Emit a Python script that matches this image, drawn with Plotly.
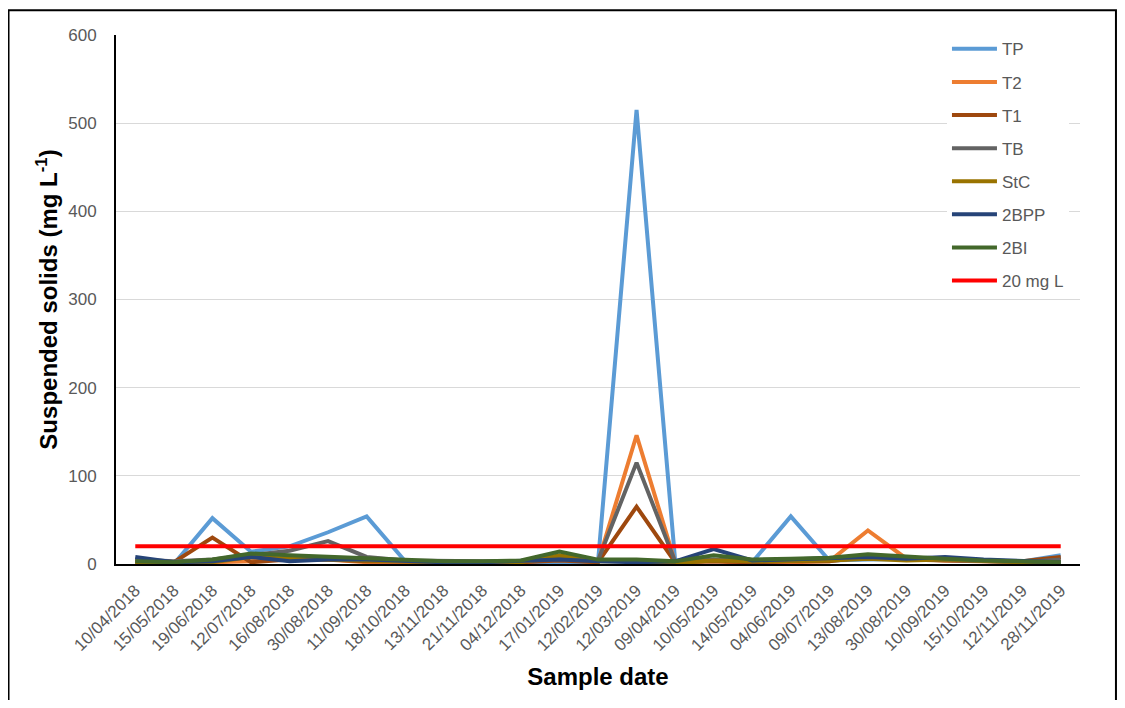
import plotly.graph_objects as go

dates = ["10/04/2018", "15/05/2018", "19/06/2018", "12/07/2018", "16/08/2018",
         "30/08/2018", "11/09/2018", "18/10/2018", "13/11/2018", "21/11/2018",
         "04/12/2018", "17/01/2019", "12/02/2019", "12/03/2019", "09/04/2019",
         "10/05/2019", "14/05/2019", "04/06/2019", "09/07/2019", "13/08/2019",
         "30/08/2019", "10/09/2019", "15/10/2019", "12/11/2019", "28/11/2019"]

TP   = [2, 0, 52, 14, 20, 36, 54, 3, 2, 2, 2, 3, 2, 515, 4, 5, 2, 54, 4, 5, 5, 6, 4, 3, 10]
T2   = [1, 0, 2, 3, 8, 5, 2, 2, 1, 1, 2, 5, 2, 146, 2, 3, 1, 2, 3, 38, 6, 4, 3, 2, 6]
T1   = [3, 2, 30, 2, 5, 5, 3, 3, 2, 2, 2, 4, 2, 65, 2, 3, 2, 3, 3, 8, 5, 4, 3, 3, 8]
TB   = [5, 3, 5, 10, 15, 26, 8, 4, 3, 3, 3, 6, 4, 115, 3, 5, 3, 5, 5, 10, 6, 5, 3, 2, 5]
StC  = [2, 1, 2, 8, 6, 5, 3, 2, 1, 1, 2, 10, 3, 3, 1, 4, 3, 3, 4, 6, 4, 5, 3, 2, 2]
BPP  = [8, 2, 3, 8, 3, 5, 5, 3, 2, 2, 3, 5, 3, 2, 3, 17, 4, 5, 6, 8, 6, 8, 5, 3, 2]
BI   = [3, 2, 5, 12, 10, 8, 6, 4, 3, 3, 4, 14, 5, 5, 3, 10, 5, 6, 7, 11, 8, 6, 4, 3, 2]
LIMIT = [20] * len(dates)

series = [
    ("TP", TP, "#5b9bd5"),
    ("T2", T2, "#ed7d31"),
    ("T1", T1, "#9e480e"),
    ("TB", TB, "#636363"),
    ("StC", StC, "#997300"),
    ("2BPP", BPP, "#264478"),
    ("2BI", BI, "#43682b"),
    ("20 mg L", LIMIT, "#ff0000"),
]

fig = go.Figure()
for name, vals, col in series:
    fig.add_trace(go.Scatter(x=dates, y=vals, name=name, mode="lines",
                             legendgroup=name,
                             line=dict(color=col, width=4)))

fig.update_layout(
    width=1109, height=692,
    margin=dict(l=108, r=37, t=27, b=136),
    paper_bgcolor="white", plot_bgcolor="white",
    font=dict(family="Liberation Sans, Arial", color="#595959", size=17),
    showlegend=True,
    legend=dict(x=0.862, y=1.007, xanchor="left", yanchor="top",
                bgcolor="white", font=dict(size=17, color="#595959"),
                itemwidth=45, tracegroupgap=8),
    xaxis=dict(type="category", range=[-0.5, len(dates) - 0.5],
               tickangle=-45, showgrid=False, showline=True,
               linecolor="black", linewidth=2, ticks="",
               ticklabelstandoff=8,
               tickfont=dict(size=17, color="#595959"),
               title=dict(text="<b>Sample date</b>",
                          font=dict(size=24, color="black"), standoff=14)),
    yaxis=dict(range=[0, 600], dtick=100, showgrid=True,
               gridcolor="#d9d9d9", gridwidth=1.3, showline=True,
               linecolor="black", linewidth=2, ticks="", zeroline=False,
               ticklabelstandoff=14,
               tickfont=dict(size=17, color="#595959"),
               title=dict(text="<b>Suspended solids (mg L<sup>-1</sup>)</b>",
                          font=dict(size=24, color="black"), standoff=4)),
)

fig.add_shape(type="rect", xref="paper", yref="paper",
              x0=-0.1115, x1=1.0373, y0=-0.30, y1=1.047,
              line=dict(color="black", width=2), fillcolor="rgba(0,0,0,0)",
              layer="above")

fig.write_html("out.html")
